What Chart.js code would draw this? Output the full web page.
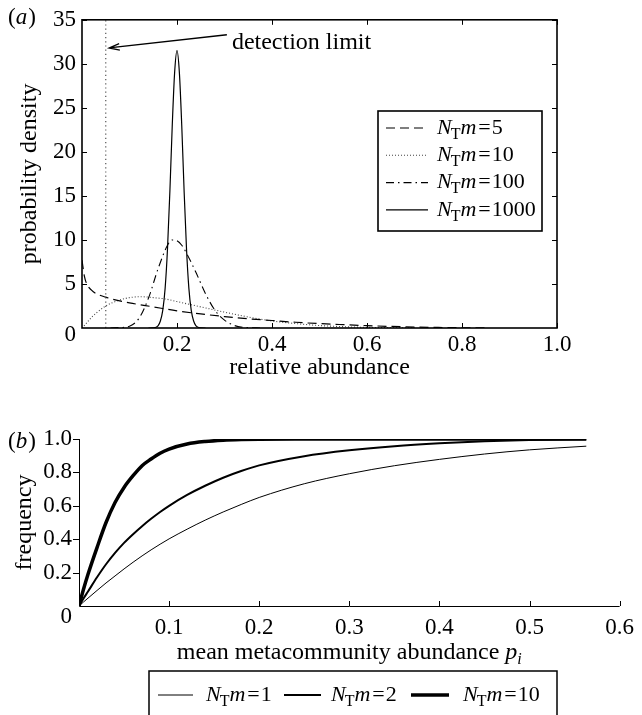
<!DOCTYPE html>
<html>
<head>
<meta charset="utf-8">
<script src="https://cdn.jsdelivr.net/npm/chart.js@4.4.0/dist/chart.umd.min.js"></script>
<style>
  body { margin: 0; background: #fff; }
  canvas { position: absolute; left: 0; }
  #chartA { top: 0; }
  #chartB { top: 390px; }
</style>
</head>
<body>
<canvas id="chartA" width="642" height="390"></canvas>
<canvas id="chartB" width="642" height="325"></canvas>
<script>
// panel (a): probability density vs relative abundance
const abund5 = [0, 0.005, 0.01, 0.02, 0.03, 0.05, 0.07, 0.1, 0.15, 0.2, 0.25, 0.3, 0.35, 0.4, 0.45, 0.5, 0.55, 0.6, 0.65, 0.7, 0.75, 0.8, 0.85];
const density5 = [7.7, 5.9, 5.0, 4.3, 3.9, 3.5, 3.2, 2.85, 2.4, 1.95, 1.6, 1.3, 1.05, 0.85, 0.65, 0.5, 0.38, 0.27, 0.18, 0.11, 0.06, 0.03, 0.01];

const abund10 = [0, 0.01, 0.02, 0.03, 0.05, 0.075, 0.1, 0.125, 0.15, 0.175, 0.2, 0.25, 0.3, 0.35, 0.4, 0.45, 0.5, 0.55, 0.6, 0.7];
const density10 = [0, 0.6, 1.2, 1.7, 2.5, 3.1, 3.45, 3.55, 3.45, 3.3, 3.0, 2.4, 1.8, 1.25, 0.8, 0.5, 0.28, 0.15, 0.07, 0.01];

const abund100 = [0.06, 0.08, 0.1, 0.12, 0.14, 0.16, 0.18, 0.19, 0.2, 0.21, 0.22, 0.24, 0.26, 0.28, 0.3, 0.32, 0.34, 0.38];
const density100 = [0, 0.05, 0.2, 1.1, 3.4, 6.7, 9.4, 10.0, 9.9, 9.4, 8.5, 6.3, 3.9, 2.0, 0.9, 0.3, 0.08, 0];

const abund1000 = [0.14, 0.15, 0.16, 0.165, 0.17, 0.175, 0.18, 0.185, 0.19, 0.195, 0.2, 0.205, 0.21, 0.215, 0.22, 0.225, 0.23, 0.235, 0.24, 0.25, 0.26];
const density1000 = [0, 0.02, 0.25, 0.8, 2.0, 4.5, 9.0, 15.5, 23, 29, 31.5, 29, 23, 15.5, 9.0, 4.5, 2.0, 0.8, 0.25, 0.02, 0];

const detectionX = [0.05, 0.05];
const detectionY = [0, 35];

const xTicksA = [0.2, 0.4, 0.6, 0.8, 1.0];
const yTicksA = [5, 10, 15, 20, 25, 30, 35];

// panel (b): frequency vs mean metacommunity abundance
const meanAbund = [0, 0.005, 0.01, 0.02, 0.03, 0.04, 0.05, 0.06, 0.07, 0.08, 0.09, 0.1, 0.12, 0.14, 0.16, 0.18, 0.2, 0.25, 0.3, 0.35, 0.4, 0.45, 0.5, 0.563];
const freq1 = [0, 0.024, 0.047, 0.093, 0.138, 0.18, 0.222, 0.262, 0.3, 0.336, 0.37, 0.402, 0.46, 0.514, 0.563, 0.608, 0.65, 0.732, 0.792, 0.84, 0.878, 0.91, 0.935, 0.957];
const freq2 = [0, 0.045, 0.087, 0.172, 0.25, 0.318, 0.378, 0.43, 0.478, 0.522, 0.563, 0.6, 0.665, 0.72, 0.768, 0.808, 0.842, 0.897, 0.932, 0.957, 0.974, 0.986, 0.994, 0.998];
const freq10 = [0, 0.1, 0.19, 0.35, 0.5, 0.62, 0.71, 0.78, 0.84, 0.88, 0.915, 0.94, 0.97, 0.985, 0.993, 0.997, 0.999, 1, 1, 1, 1, 1, 1, 1];

const xTicksB = [0.1, 0.2, 0.3, 0.4, 0.5, 0.6];
const yTicksB = [0.2, 0.4, 0.6, 0.8, 1.0];

const SERIF = '"Liberation Serif", "Times New Roman", serif';

function pts(xs, ys) {
  return xs.map((x, i) => ({ x: x, y: ys[i] }));
}

// N_T m = value, drawn left aligned
function drawNm(ctx, x, y, val, size) {
  ctx.textBaseline = 'middle';
  ctx.textAlign = 'left';
  ctx.fillStyle = '#000';
  ctx.font = `italic ${size}px ${SERIF}`;
  ctx.fillText('N', x, y);
  x += ctx.measureText('N').width - 1;
  ctx.font = `${Math.round(size * 0.72)}px ${SERIF}`;
  ctx.fillText('T', x, y + size * 0.3);
  x += ctx.measureText('T').width;
  ctx.font = `italic ${size}px ${SERIF}`;
  ctx.fillText('m', x, y);
  x += ctx.measureText('m').width + 2;
  ctx.font = `${size}px ${SERIF}`;
  ctx.fillText('=', x, y);
  x += ctx.measureText('=').width + 1;
  ctx.fillText(val, x, y);
}

function drawPanelLabel(ctx, x, y, letter) {
  ctx.textBaseline = 'middle';
  ctx.textAlign = 'left';
  ctx.fillStyle = '#000';
  ctx.font = `23px ${SERIF}`;
  ctx.fillText('(', x, y);
  x += ctx.measureText('(').width;
  ctx.font = `italic 23px ${SERIF}`;
  ctx.fillText(letter, x, y);
  x += ctx.measureText(letter).width + 1;
  ctx.font = `23px ${SERIF}`;
  ctx.fillText(')', x, y);
}

const decorA = {
  id: 'decorA',
  afterDatasetsDraw(chart) {
    const { ctx, chartArea: a, scales: { x, y } } = chart;
    ctx.save();
    // frame
    ctx.strokeStyle = '#000';
    ctx.lineWidth = 1.6;
    ctx.strokeRect(a.left, a.top, a.right - a.left, a.bottom - a.top);
    // inward ticks on all sides
    ctx.lineWidth = 1;
    ctx.beginPath();
    xTicksA.forEach(v => {
      const px = Math.round(x.getPixelForValue(v)) + 0.5;
      ctx.moveTo(px, a.bottom); ctx.lineTo(px, a.bottom - 5);
      ctx.moveTo(px, a.top); ctx.lineTo(px, a.top + 5);
    });
    yTicksA.forEach(v => {
      const py = Math.round(y.getPixelForValue(v)) + 0.5;
      ctx.moveTo(a.left, py); ctx.lineTo(a.left + 5, py);
      ctx.moveTo(a.right, py); ctx.lineTo(a.right - 5, py);
    });
    ctx.stroke();

    // origin label
    ctx.fillStyle = '#000';
    ctx.font = `23px ${SERIF}`;
    ctx.textAlign = 'right';
    ctx.textBaseline = 'middle';
    ctx.fillText('0', a.left - 6, a.bottom + 7);

    drawPanelLabel(ctx, 8, 18, 'a');

    // detection limit annotation
    const tx = x.getPixelForValue(0.305), ty = y.getPixelForValue(33.3);
    const hx = x.getPixelForValue(0.057), hy = y.getPixelForValue(31.8);
    ctx.lineWidth = 1.3;
    ctx.beginPath();
    ctx.moveTo(tx, ty); ctx.lineTo(hx, hy);
    const ang = Math.atan2(ty - hy, tx - hx);
    ctx.moveTo(hx + 11 * Math.cos(ang + 0.3), hy + 11 * Math.sin(ang + 0.3));
    ctx.lineTo(hx, hy);
    ctx.lineTo(hx + 11 * Math.cos(ang - 0.3), hy + 11 * Math.sin(ang - 0.3));
    ctx.stroke();
    ctx.font = `24px ${SERIF}`;
    ctx.textAlign = 'left';
    ctx.fillText('detection limit', tx + 5, ty + 8);

    // legend box
    const lx = 378, ly = 111, lw = 164, lh = 120;
    ctx.fillStyle = '#fff';
    ctx.fillRect(lx, ly, lw, lh);
    ctx.lineWidth = 1.6;
    ctx.strokeStyle = '#000';
    ctx.strokeRect(lx, ly, lw, lh);
    const rows = [
      { val: '5', dash: [9, 5], color: '#000', w: 1.2 },
      { val: '10', dash: [1, 2], color: '#444', w: 1.1 },
      { val: '100', dash: [8, 4, 1.5, 4], color: '#000', w: 1.1 },
      { val: '1000', dash: [], color: '#000', w: 1.2 }
    ];
    rows.forEach((r, i) => {
      const ry = 128 + i * 27.3;
      ctx.strokeStyle = r.color;
      ctx.lineWidth = r.w;
      ctx.setLineDash(r.dash);
      ctx.beginPath();
      ctx.moveTo(386, ry); ctx.lineTo(428, ry);
      ctx.stroke();
      ctx.setLineDash([]);
      drawNm(ctx, 437, ry, r.val, 22);
    });
    ctx.restore();
  }
};

const decorB = {
  id: 'decorB',
  afterDatasetsDraw(chart) {
    const { ctx, chartArea: a, scales: { x, y } } = chart;
    ctx.save();
    ctx.strokeStyle = '#000';
    ctx.lineWidth = 1;
    ctx.beginPath();
    ctx.moveTo(a.left + 0.5, a.top); ctx.lineTo(a.left + 0.5, a.bottom + 0.5);
    ctx.lineTo(a.right, a.bottom + 0.5);
    xTicksB.forEach(v => {
      const px = Math.round(x.getPixelForValue(v)) + 0.5;
      ctx.moveTo(px, a.bottom); ctx.lineTo(px, a.bottom - 5);
    });
    yTicksB.forEach(v => {
      const py = Math.round(y.getPixelForValue(v)) + 0.5;
      ctx.moveTo(a.left, py); ctx.lineTo(a.left - 6, py);
    });
    ctx.stroke();

    ctx.fillStyle = '#000';
    ctx.font = `23px ${SERIF}`;
    ctx.textAlign = 'right';
    ctx.textBaseline = 'middle';
    ctx.fillText('0', a.left - 7, a.bottom + 11);

    drawPanelLabel(ctx, 8, y.getPixelForValue(1) + 3, 'b');

    // x axis title with italic p_i
    const title = 'mean metacommunity abundance ';
    ctx.font = `24px ${SERIF}`;
    const w1 = ctx.measureText(title).width;
    ctx.font = `italic 24px ${SERIF}`;
    const w2 = ctx.measureText('p').width;
    ctx.font = `italic 16px ${SERIF}`;
    const w3 = ctx.measureText('i').width;
    let tx = (a.left + a.right) / 2 - (w1 + w2 + w3) / 2;
    const ty = 263;
    ctx.textAlign = 'left';
    ctx.font = `24px ${SERIF}`;
    ctx.fillText(title, tx, ty);
    tx += w1;
    ctx.font = `italic 24px ${SERIF}`;
    ctx.fillText('p', tx, ty);
    tx += w2;
    ctx.font = `italic 16px ${SERIF}`;
    ctx.fillText('i', tx, ty + 7);

    // legend, cut by the bottom edge
    ctx.lineWidth = 1.5;
    ctx.strokeStyle = '#000';
    ctx.strokeRect(149, 281, 408, 60);
    const ry = 305;
    const items = [
      { val: '1', x0: 158, x1: 193, tx: 206, w: 1 },
      { val: '2', x0: 284, x1: 321, tx: 331, w: 2 },
      { val: '10', x0: 411, x1: 449, tx: 463, w: 3.5 }
    ];
    items.forEach(it => {
      ctx.lineWidth = it.w;
      ctx.beginPath();
      ctx.moveTo(it.x0, ry); ctx.lineTo(it.x1, ry);
      ctx.stroke();
      drawNm(ctx, it.tx, ry, it.val, 22);
    });
    ctx.restore();
  }
};

const tickFont = { family: SERIF, size: 23 };
const titleFont = { family: SERIF, size: 24 };

new Chart(document.getElementById('chartA'), {
  type: 'line',
  data: {
    datasets: [
      { data: pts(detectionX, detectionY), borderColor: '#555', borderWidth: 1.2, borderDash: [1.2, 3], pointRadius: 0 },
      { data: pts(abund5, density5), borderColor: '#000', borderWidth: 1.2, borderDash: [9, 5], pointRadius: 0, cubicInterpolationMode: 'monotone' },
      { data: pts(abund10, density10), borderColor: '#444', borderWidth: 1.1, borderDash: [1, 2], pointRadius: 0, cubicInterpolationMode: 'monotone' },
      { data: pts(abund100, density100), borderColor: '#000', borderWidth: 1.1, borderDash: [8, 4, 1.5, 4], pointRadius: 0, cubicInterpolationMode: 'monotone' },
      { data: pts(abund1000, density1000), borderColor: '#000', borderWidth: 1.2, pointRadius: 0, cubicInterpolationMode: 'monotone' }
    ]
  },
  options: {
    responsive: false,
    animation: false,
    layout: { padding: { left: 0, right: 85, top: 19, bottom: 8 } },
    plugins: { legend: { display: false }, tooltip: { enabled: false } },
    scales: {
      x: {
        type: 'linear', min: 0, max: 1,
        grid: { display: false, drawTicks: false },
        border: { display: false },
        ticks: { stepSize: 0.2, padding: 3, color: '#000', font: tickFont, maxRotation: 0,
          callback: v => v === 0 ? '' : v.toFixed(1) },
        title: { display: true, text: 'relative abundance', color: '#000', font: titleFont, padding: { top: 0, bottom: 0 } },
        afterFit: s => { s.height = 54; }
      },
      y: {
        min: 0, max: 35,
        grid: { display: false, drawTicks: false },
        border: { display: false },
        ticks: { stepSize: 5, padding: 6, color: '#000', font: tickFont,
          callback: v => v === 0 ? '' : v },
        title: { display: true, text: 'probability density', color: '#000', font: titleFont, padding: { top: 15, bottom: 0 } },
        afterFit: s => { s.width = 82; }
      }
    }
  },
  plugins: [decorA]
});

new Chart(document.getElementById('chartB'), {
  type: 'line',
  data: {
    datasets: [
      { data: pts(meanAbund, freq1), borderColor: '#000', borderWidth: 1, pointRadius: 0, cubicInterpolationMode: 'monotone' },
      { data: pts(meanAbund, freq2), borderColor: '#000', borderWidth: 2, pointRadius: 0, cubicInterpolationMode: 'monotone' },
      { data: pts(meanAbund, freq10), borderColor: '#000', borderWidth: 3.5, pointRadius: 0, cubicInterpolationMode: 'monotone' }
    ]
  },
  options: {
    responsive: false,
    animation: false,
    layout: { padding: { left: 0, right: 19, top: 49, bottom: 0 } },
    plugins: { legend: { display: false }, tooltip: { enabled: false } },
    scales: {
      x: {
        type: 'linear', min: 0, max: 0.6,
        grid: { display: false, drawTicks: false },
        border: { display: false },
        ticks: { stepSize: 0.1, padding: 8, color: '#000', font: tickFont, maxRotation: 0,
          callback: v => v === 0 ? '' : v.toFixed(1) },
        afterFit: s => { s.height = 109; }
      },
      y: {
        min: 0, max: 1,
        grid: { display: false, drawTicks: false },
        border: { display: false },
        ticks: { stepSize: 0.2, padding: 7, color: '#000', font: tickFont,
          callback: v => v === 0 ? '' : v.toFixed(1) },
        title: { display: true, text: 'frequency', color: '#000', font: titleFont, padding: { top: 10, bottom: 0 } },
        afterFit: s => { s.width = 79; }
      }
    }
  },
  plugins: [decorB]
});
</script>
</body>
</html>
